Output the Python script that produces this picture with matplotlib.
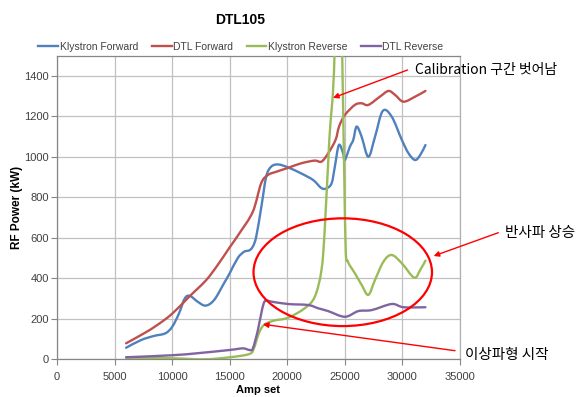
import matplotlib
matplotlib.use("Agg")
import matplotlib.pyplot as plt
from matplotlib.patches import Ellipse, PathPatch
from matplotlib.path import Path
from matplotlib.lines import Line2D

# ---------------- data ----------------
amp_kf = [6000, 7300, 8400, 9400, 10000, 10600, 11100, 11550, 12200, 12900, 13650, 14500,
          15000, 15700, 16250, 16700, 17000, 17300, 17750, 18170, 18600, 19200, 20050, 21200,
          22250, 22950, 23400, 23850, 24130, 24480, 24850, 25000, 25440, 25730, 26020, 26450,
          27040, 27620, 28290, 29070, 29950, 30530, 31100, 31550, 32000]
pw_kf = [57, 95, 115, 128, 160, 227, 301, 313, 285, 265, 293, 375,
         425, 500, 531, 538, 556, 605, 754, 902, 951, 962, 948, 918,
         885, 846, 844, 869, 951, 1058, 1017, 984, 1050, 1083, 1149, 1100,
         1000, 1099, 1226, 1198, 1083, 1017, 984, 1009, 1058]

amp_df = [6000, 7550, 8700, 10000, 11480, 12940, 13960, 15000, 15840, 17010, 17730, 18320,
          19040, 20060, 21220, 22380, 22970, 23550, 24190, 24500, 25000, 25870, 26460, 27040,
          28050, 28790, 29370, 30090, 31110, 32000]
pw_df = [79, 128, 169, 225, 309, 390, 466, 553, 622, 729, 869, 910,
         926, 945, 968, 981, 976, 1017, 1083, 1150, 1206, 1256, 1264, 1256,
         1297, 1325, 1305, 1272, 1297, 1325]

amp_kr = [6000, 10000, 12800, 15000, 16700, 17100, 17530, 17970, 18840, 20060, 21510, 22390,
          22970, 23250, 23650, 24100, 24400, 24770, 24950, 25080, 25250, 25440, 25870, 26460,
          27040, 27620, 28350, 29070, 29950, 31020, 31540, 32000]
pw_kr = [8, 5, 0, 10, 26, 54, 128, 169, 191, 205, 252, 309,
         441, 640, 1083, 1500, 2600, 1500, 900, 530, 485, 462, 425, 367,
         318, 392, 482, 515, 474, 403, 441, 487]

amp_dr = [6000, 10000, 12200, 15000, 16140, 16710, 17010, 17450, 17800, 18080, 18600, 20060,
          21810, 22680, 23550, 25000, 26170, 27330, 29070, 30090, 32000]
pw_dr = [10, 20, 30, 46, 54, 46, 54, 145, 243, 289, 285, 273,
         268, 252, 238, 210, 238, 243, 273, 257, 257]

series_names = ["Klystron Forward", "DTL Forward", "Klystron Reverse", "DTL Reverse"]
series_colors = ["#4F81BD", "#C0504D", "#9BBB59", "#8064A2"]

x_ticks = [0, 5000, 10000, 15000, 20000, 25000, 30000, 35000]
y_ticks = [0, 200, 400, 600, 800, 1000, 1200, 1400]

title = "DTL105"
x_label = "Amp set"
y_label = "RF Power (kW)"
note_calib = "Calibration 구간 벗어남"
note_reflect = "반사파 상승"
note_anomaly = "이상파형 시작"


def smooth_path(xs, ys):
    """Excel-like smoothed line: cubic Bezier segments through the data points."""
    n = len(xs)
    verts = [(xs[0], ys[0])]
    codes = [Path.MOVETO]
    for i in range(n - 1):
        x0, y0 = (xs[i - 1], ys[i - 1]) if i > 0 else (xs[i], ys[i])
        x1, y1 = xs[i], ys[i]
        x2, y2 = xs[i + 1], ys[i + 1]
        x3, y3 = (xs[i + 2], ys[i + 2]) if i + 2 < n else (x2, y2)
        c1 = (x1 + (x2 - x0) / 6.0, y1 + (y2 - y0) / 6.0)
        c2 = (x2 - (x3 - x1) / 6.0, y2 - (y3 - y1) / 6.0)
        verts += [c1, c2, (x2, y2)]
        codes += [Path.CURVE4] * 3
    return Path(verts, codes)


# ---------------- figure ----------------
W, H = 577, 397
fig = plt.figure(figsize=(W / 100, H / 100), dpi=100)
ax = fig.add_axes([57 / W, 1 - 359.3 / H, (460 - 57) / W, (359.3 - 55.5) / H])

base_font = ["Liberation Sans", "DejaVu Sans"]
kr_font = ["Noto Sans CJK KR", "DejaVu Sans"]
txt_col = "#404040"

data = [(amp_kf, pw_kf), (amp_df, pw_df), (amp_kr, pw_kr), (amp_dr, pw_dr)]
handles = []
for (xs, ys), name, col in zip(data, series_names, series_colors):
    patch = PathPatch(smooth_path(xs, ys), facecolor="none", edgecolor=col, lw=1.7,
                      joinstyle="round", capstyle="round", zorder=3)
    ax.add_patch(patch)
    handles.append(Line2D([], [], color=col, lw=1.7, label=name))

ax.set_xlim(0, 35000)
ax.set_ylim(0, 1500)
ax.set_xticks(x_ticks)
ax.set_yticks(y_ticks)
ax.grid(True, color="#C0C0C0", lw=0.9)
ax.set_axisbelow(True)
for s in ["left", "bottom", "top"]:
    ax.spines[s].set_color("#868686")
    ax.spines[s].set_linewidth(0.9)
ax.spines["right"].set_color("#B0B0B0")
ax.spines["right"].set_linewidth(0.9)

ax.tick_params(axis="both", colors="#868686", labelcolor=txt_col, labelsize=8,
               length=4, width=0.8, direction="out")
ax.tick_params(axis="x", pad=5)
ax.tick_params(axis="y", pad=2)
for lab in ax.get_xticklabels() + ax.get_yticklabels():
    lab.set_fontfamily(base_font)

ax.set_xlabel(x_label, fontsize=8, fontweight="bold", family=base_font,
              color="black", labelpad=2)
ax.set_ylabel(y_label, fontsize=8.5, fontweight="bold", family=base_font,
              color="black", labelpad=1)

fig.text(240 / W, 1 - 20.5 / H, title, ha="center", va="center",
         fontsize=10, fontweight="bold", family=base_font)

leg = fig.legend(handles=handles, loc="center", bbox_to_anchor=(241 / W, 1 - 46.7 / H),
                 ncol=4, frameon=False, prop={"family": base_font, "size": 7.5},
                 handlelength=1.9, handletextpad=0.15, columnspacing=1.3,
                 borderaxespad=0, borderpad=0)
for t in leg.get_texts():
    t.set_color(txt_col)

# ellipse
ax.add_patch(Ellipse((24817, 430), 15501, 532, fill=False, edgecolor="red", lw=1.6,
                     zorder=5))

# annotations
arrow = dict(arrowstyle="-|>", color="red", lw=1.0, mutation_scale=8,
             shrinkA=0, shrinkB=0)
ax.annotate("", xy=(23971, 1291), xycoords="data",
            xytext=(407.5, H - 70), textcoords="figure pixels",
            arrowprops=arrow, annotation_clip=False)
ax.annotate("", xy=(32711, 510), xycoords="data",
            xytext=(498.3, H - 232.7), textcoords="figure pixels",
            arrowprops=arrow, annotation_clip=False)
ax.annotate("", xy=(17882, 173), xycoords="data",
            xytext=(455, H - 350.7), textcoords="figure pixels",
            arrowprops=arrow, annotation_clip=False)

fig.text(415 / W, 1 - 70 / H, note_calib, ha="left", va="center",
         fontsize=10, family=kr_font, color="black")
fig.text(505 / W, 1 - 232.5 / H, note_reflect, ha="left", va="center",
         fontsize=10.5, family=kr_font, color="black")
fig.text(465 / W, 1 - 355.5 / H, note_anomaly, ha="left", va="center",
         fontsize=10.5, family=kr_font, color="black")

fig.savefig("out.png", dpi=100)
